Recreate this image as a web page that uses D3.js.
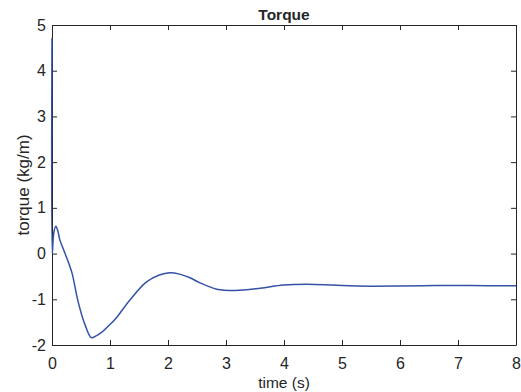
<!DOCTYPE html>
<html>
<head>
<meta charset="utf-8">
<script src="https://cdn.jsdelivr.net/npm/d3@7"></script>
<style>
  body { margin: 0; background: #fff; }
  svg text { font-family: "Liberation Sans", Arial, sans-serif; fill: #262626; }
</style>
</head>
<body>
<svg id="chart"></svg>
<script>
var time = [0, 0.005, 0.03, 0.065, 0.1, 0.135, 0.17, 0.21, 0.25, 0.3, 0.35, 0.45, 0.57, 0.68, 0.76, 0.86, 1.0, 1.1, 1.34, 1.63, 1.85, 2.03, 2.2, 2.38, 2.55, 2.84, 3.16, 3.59, 3.99, 4.39, 4.85, 5.25, 6.0, 6.6, 7.2, 8.0];
var torque = [4.72, 0.0, 0.45, 0.6, 0.5, 0.3, 0.18, 0.05, -0.08, -0.25, -0.45, -1.05, -1.56, -1.84, -1.80, -1.72, -1.55, -1.42, -1.02, -0.62, -0.47, -0.42, -0.45, -0.53, -0.64, -0.78, -0.81, -0.76, -0.69, -0.67, -0.69, -0.71, -0.71, -0.70, -0.70, -0.705];
var xTicks = [0, 1, 2, 3, 4, 5, 6, 7, 8];
var yTicks = [-2, -1, 0, 1, 2, 3, 4, 5];

var width = 521, height = 392;
var margin = {top: 25, right: 5, bottom: 47, left: 52};
var svg = d3.select('#chart').attr('width', width).attr('height', height);

var x = d3.scaleLinear().domain([0, 8]).range([margin.left, width - margin.right]);
var y = d3.scaleLinear().domain([-2, 5]).range([height - margin.bottom, margin.top]);

var tick = 5;
var axisColor = '#262626';
var fmt = function(d) { return String(d); };

// axes, box with inward ticks
var axisB = svg.append('g').attr('transform', 'translate(0,' + y(-2) + ')')
  .call(d3.axisBottom(x).tickValues(xTicks).tickSizeInner(-tick).tickSizeOuter(0).tickPadding(13).tickFormat(fmt));
var axisL = svg.append('g').attr('transform', 'translate(' + x(0) + ',0)')
  .call(d3.axisLeft(y).tickValues(yTicks).tickSizeInner(-tick).tickSizeOuter(0).tickPadding(6).tickFormat(fmt));
var axisT = svg.append('g').attr('transform', 'translate(0,' + y(5) + ')')
  .call(d3.axisTop(x).tickValues(xTicks).tickSizeInner(-tick).tickSizeOuter(0).tickFormat(''));
var axisR = svg.append('g').attr('transform', 'translate(' + x(8) + ',0)')
  .call(d3.axisRight(y).tickValues(yTicks).tickSizeInner(-tick).tickSizeOuter(0).tickFormat(''));

[axisB, axisL, axisT, axisR].forEach(function(g) {
  g.selectAll('path, line').attr('stroke', axisColor).attr('stroke-width', 1);
  g.selectAll('text').attr('font-size', 16).attr('fill', axisColor)
    .style('font-family', '"Liberation Sans", Arial, sans-serif');
});

// curve (drawn over the axes, like the spike on the y axis)
var line = d3.line()
  .x(function(d, i) { return x(time[i]); })
  .y(function(d) { return y(d); })
  .curve(d3.curveCatmullRom.alpha(0.5));

svg.append('path').datum(torque)
  .attr('d', line)
  .attr('fill', 'none')
  .attr('stroke', '#3352a8')
  .attr('stroke-width', 1.5);

// labels
svg.append('text')
  .attr('x', (x(0) + x(8)) / 2).attr('y', 20)
  .attr('text-anchor', 'middle').attr('font-size', 15.5).attr('font-weight', 'bold')
  .text('Torque');

svg.append('text')
  .attr('x', (x(0) + x(8)) / 2).attr('y', 388)
  .attr('text-anchor', 'middle').attr('font-size', 15.5)
  .text('time (s)');

svg.append('text')
  .attr('transform', 'translate(29,' + (y(-2) + y(5)) / 2 + ') rotate(-90)')
  .attr('text-anchor', 'middle').attr('font-size', 17)
  .text('torque (kg/m)');
</script>
</body>
</html>
